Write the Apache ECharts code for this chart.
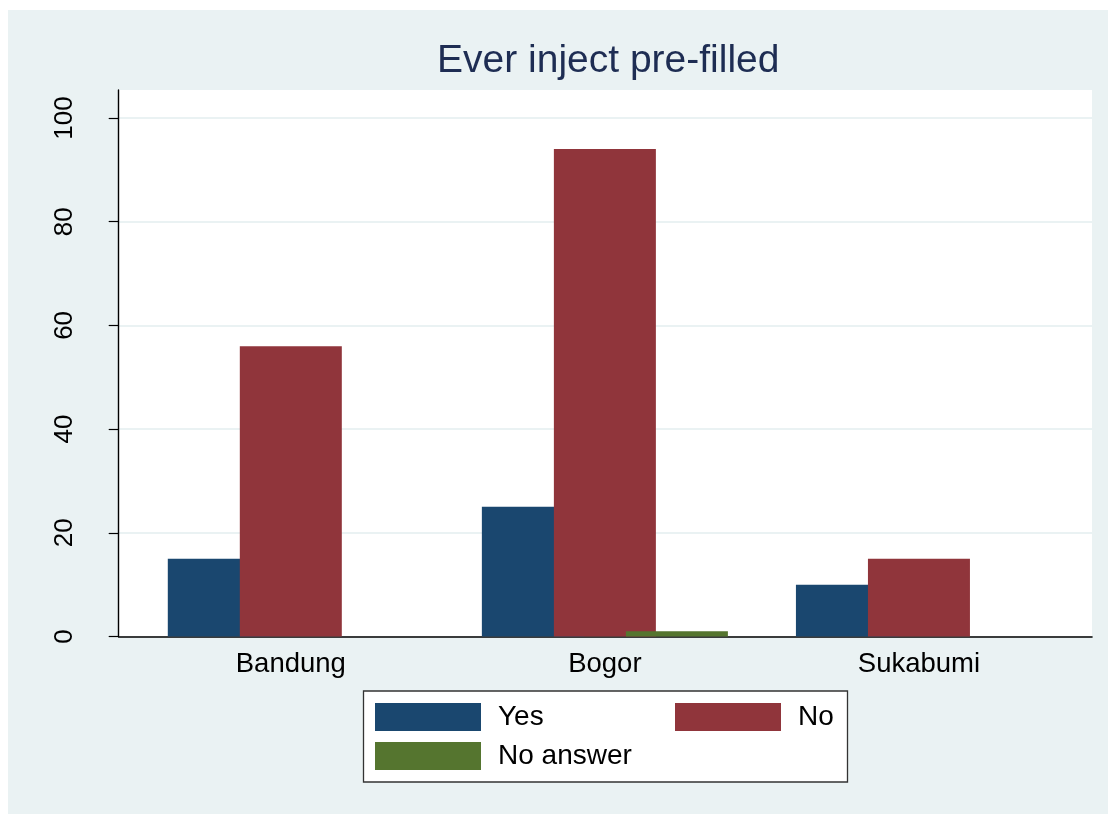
<!DOCTYPE html>
<html>
<head>
<meta charset="utf-8">
<script src="https://cdn.jsdelivr.net/npm/echarts@6/dist/echarts.min.js"></script>
<style>
html,body{margin:0;padding:0;background:#fff;}
#chart{width:1108px;height:814px;}
</style>
</head>
<body>
<div id="chart"></div>
<script>
const categories = ['Bandung', 'Bogor', 'Sukabumi'];
const seriesNames = ['Yes', 'No', 'No answer'];
const yesValues = [15, 25, 10];
const noValues = [56, 94, 15];
const noAnswerValues = [0, 1, 0];
const yTicks = [0, 20, 40, 60, 80, 100];
const titleText = 'Ever inject pre-filled';

const colors = ['#1a476f', '#90353b', '#55752f'];
const FONT = '"Liberation Sans", Arial, sans-serif';
const allValues = [yesValues, noValues, noAnswerValues];
const catIdx = categories.map((c, i) => i);

const chart = echarts.init(document.getElementById('chart'), null, {renderer: 'canvas'});
chart.setOption({
  animation: false,
  backgroundColor: '#fff',
  graphic: [
    {type: 'rect', z: -10, silent: true, shape: {x: 8, y: 10, width: 1100, height: 804}, style: {fill: '#eaf2f3'}},
    {type: 'rect', z: 5, silent: true, shape: {x: 363.5, y: 691, width: 484, height: 91}, style: {fill: '#fff', stroke: '#333', lineWidth: 1.3}}
  ],
  title: {
    text: titleText,
    left: 437, top: 42,
    padding: 0,
    textStyle: {fontFamily: FONT, fontSize: 39, fontWeight: 'normal', color: '#1e2d53'}
  },
  legend: [
    {data: [seriesNames[0]], left: 375, top: 703},
    {data: [seriesNames[1]], left: 675, top: 703},
    {data: [seriesNames[2]], left: 375, top: 742}
  ].map(l => Object.assign(l, {
    orient: 'horizontal', padding: 0, itemWidth: 106, itemHeight: 28, icon: 'rect', z: 10,
    selectedMode: false,
    textStyle: {fontFamily: FONT, fontSize: 28, color: '#000', padding: [0, 0, 0, 12]}
  })),
  grid: {
    left: 118.7, top: 90, right: 16, bottom: 177.5,
    show: true, backgroundColor: '#fff', borderWidth: 0, containLabel: false
  },
  xAxis: {
    type: 'value',
    min: -0.548, max: 2.551,
    axisLine: {show: true, onZero: false, lineStyle: {color: '#000', width: 1.6}},
    axisTick: {show: false},
    splitLine: {show: false},
    axisLabel: {
      customValues: catIdx,
      margin: 14,
      fontFamily: FONT, fontSize: 27.5, color: '#000',
      formatter: v => categories[Math.round(v)] || ''
    }
  },
  yAxis: {
    type: 'value',
    min: 0, max: 105.4,
    axisLine: {show: true, onZero: false, lineStyle: {color: '#000', width: 1.4}},
    axisTick: {show: true, length: 10, customValues: yTicks, lineStyle: {color: '#000', width: 1.2}},
    splitLine: {show: true, lineStyle: {color: '#eaf2f3', width: 2}},
    axisLabel: {
      customValues: yTicks,
      rotate: 90,
      margin: 41,
      fontFamily: FONT, fontSize: 26, color: '#000'
    }
  },
  series: allValues.map((vals, s) => ({
    name: seriesNames[s],
    type: 'bar',
    data: vals.map((v, i) => [catIdx[i], v]),
    barWidth: 102,
    barGap: '-29.4%',
    z: 2 + s,
    itemStyle: {color: colors[s]}
  }))
});
</script>
</body>
</html>
